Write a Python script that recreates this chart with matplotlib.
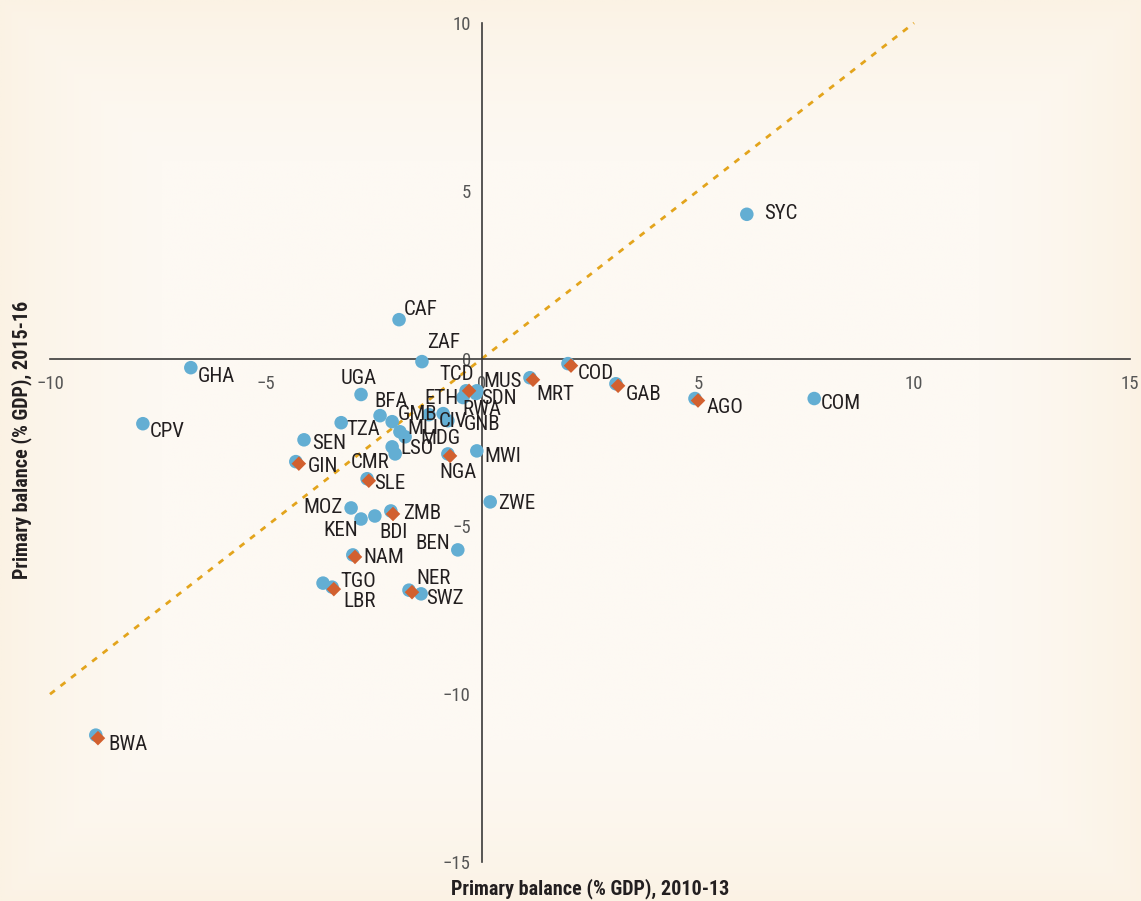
import os
import numpy as np
import matplotlib
matplotlib.use("Agg")
import matplotlib.pyplot as plt
from matplotlib import font_manager
from matplotlib.font_manager import FontProperties

# ---------------- data ----------------
countries = ["SYC", "CAF", "ZAF", "GHA", "CPV", "UGA", "BFA", "TZA", "SEN", "GIN",
             "GMB", "MLI", "MDG", "LSO", "CMR", "ETH", "CIV", "GNB", "RWA", "TCD",
             "MUS", "SDN", "NGA", "MWI", "ZWE", "MRT", "COD", "GAB", "AGO", "COM",
             "MOZ", "KEN", "BDI", "ZMB", "BEN", "NAM", "TGO", "LBR", "NER", "SWZ",
             "SLE", "BWA"]
pb_2010_13 = [6.13, -1.92, -1.39, -6.74, -7.85, -2.80, -2.36, -3.26, -4.12, -4.31,
              -2.08, -1.90, -1.78, -2.08, -2.01, -0.90, -1.23, -0.79, -0.44, -0.37,
              -0.12, -0.14, -0.79, -0.12, 0.19, 1.11, 1.99, 3.10, 4.93, 7.69,
              -3.03, -2.80, -2.48, -2.11, -0.56, -2.99, -3.68, -3.47, -1.69, -1.41,
              -2.66, -8.94]
pb_2015_16 = [4.30, 1.16, -0.09, -0.27, -1.94, -1.07, -1.70, -1.91, -2.42, -3.07,
              -1.88, -2.18, -2.33, -2.63, -2.84, -1.64, -1.67, -1.85, -1.16, -0.96,
              -0.96, -1.04, -2.84, -2.75, -4.27, -0.57, -0.15, -0.75, -1.19, -1.19,
              -4.45, -4.78, -4.69, -4.54, -5.70, -5.85, -6.69, -6.81, -6.90, -7.01,
              -3.58, -11.22]

# highlighted subset (diamonds)
hl_countries = ["TCD", "GIN", "NGA", "SLE", "MRT", "COD", "GAB", "AGO", "ZMB", "NAM",
                "LBR", "NER", "BWA"]
hl_2010_13 = [-0.30, -4.24, -0.74, -2.62, 1.18, 2.06, 3.15, 5.00, -2.06, -2.94,
              -3.43, -1.62, -8.89]
hl_2015_16 = [-0.96, -3.13, -2.90, -3.64, -0.63, -0.21, -0.81, -1.25, -4.63, -5.91,
              -6.87, -6.96, -11.31]

diag = [-10, 10]
x_ticks = [-10, -5, 0, 5, 10, 15]
y_ticks = [-15, -10, -5, 0, 5, 10]

# label offsets (pixels) relative to each point -- layout only
label_offsets = {
    "SYC": (34, 1), "CAF": (22, 10), "ZAF": (22, 19), "GHA": (26, -9), "CPV": (24, -8),
    "UGA": (-2, 16), "BFA": (11, 14), "TZA": (22, -7), "SEN": (25, -4), "GIN": (27, -5),
    "GMB": (25, 7), "MLI": (23, 3), "MDG": (35, -2), "LSO": (25, -2), "CMR": (-25, -9),
    "ETH": (-2, 15), "CIV": (24, -7), "GNB": (34, -4), "RWA": (19, -12), "TCD": (-9, 16),
    "MUS": (26, 9), "SDN": (23, -5), "NGA": (10, -19), "MWI": (26, -6), "ZWE": (26, -2),
    "MRT": (25, -17), "COD": (28, -10), "GAB": (28, -11), "AGO": (30, -9), "COM": (27, -5),
    "MOZ": (-28, 0), "KEN": (-20, -11), "BDI": (19, -17), "ZMB": (31, -3), "BEN": (-25, 6),
    "NAM": (31, -3), "TGO": (35, 2), "LBR": (28, -14), "NER": (25, 12), "SWZ": (24, -5),
    "SLE": (23, -5), "BWA": (32, -9),
}

# ---------------- fonts: look for a condensed face ----------------
def find_face(bold):
    prefs = ["liberationsansnarrow", "robotocondensed", "opensans_condensed",
             "opensanscondensed", "dejavusanscondensed", "notosanscondensed",
             "notosans-condensed", "narrow", "condensed"]
    files = [f for f in font_manager.fontManager.ttflist]
    best = None
    for p in prefs:
        for f in files:
            n = os.path.basename(f.fname).lower().replace(" ", "")
            if p not in n:
                continue
            if "italic" in n or "oblique" in n:
                continue
            isbold = ("bold" in n) and ("semibold" not in n) and ("extrabold" not in n)
            if bold != isbold:
                continue
            if not bold and any(k in n for k in ["light", "thin", "medium", "black", "semibold", "extra"]):
                continue
            best = f.fname
            break
        if best:
            break
    return best

reg_file = find_face(False)
bold_file = find_face(True)

def fp(size, bold=False):
    f = bold_file if bold else reg_file
    if f:
        return FontProperties(fname=f, size=size)
    return FontProperties(family="DejaVu Sans", size=size * 0.85,
                          weight="bold" if bold else "normal", stretch="condensed")

blue = "#63aed3"
orange = "#d2602f"
gold = "#e3a41c"
txt = "#231f20"
tick_col = "#555555"
bg_center = np.array([253, 249, 243]) / 255
bg_edge = np.array([251, 242, 228]) / 255

W, H, DPI = 1141, 901, 100
fig = plt.figure(figsize=(W / DPI, H / DPI), dpi=DPI)

# soft vignette background
bgax = fig.add_axes([0, 0, 1, 1], zorder=-10)
yy, xx = np.mgrid[0:H:4, 0:W:4]
d = np.minimum.reduce([xx, W - xx, yy, H - yy]).astype(float)
t = np.clip(d / 160.0, 0, 1) ** 0.7
img = bg_edge[None, None, :] * (1 - t[..., None]) + bg_center[None, None, :] * t[..., None]
bgax.imshow(img, aspect="auto", extent=[0, 1, 0, 1], interpolation="bilinear")
bgax.axis("off")

left, right = 50 / W, 1130 / W
bottom, top = 1 - 862 / H, 1 - 23 / H
ax = fig.add_axes([left, bottom, right - left, top - bottom])
ax.patch.set_alpha(0)
ax.set_xlim(-10, 15)
ax.set_ylim(-15, 10)

for s in ["top", "right"]:
    ax.spines[s].set_visible(False)
ax.spines["left"].set_position(("data", 0))
ax.spines["bottom"].set_position(("data", 0))
for s in ["left", "bottom"]:
    ax.spines[s].set_color("#3a3a3a")
    ax.spines[s].set_linewidth(1.2)

ax.set_xticks(x_ticks)
ax.set_yticks(y_ticks)
ax.tick_params(length=0, colors=tick_col)
ax.tick_params(axis="x", pad=12)
ax.tick_params(axis="y", pad=8)
tick_fp = fp(13.5)
for lab in ax.get_xticklabels() + ax.get_yticklabels():
    lab.set_fontproperties(tick_fp)
    lab.set_color(tick_col)

# diagonal 45-degree line
ax.plot(diag, diag, linestyle=(0, (2.2, 2.6)), color=gold, linewidth=2.0,
        zorder=1, clip_on=False)

ax.scatter(pb_2010_13, pb_2015_16, s=95, color=blue, edgecolors="none", zorder=3)
ax.scatter(hl_2010_13, hl_2015_16, s=55, marker="D", color=orange, edgecolors="none",
           zorder=4)

lab_fp = fp(15)
for c, xv, yv in zip(countries, pb_2010_13, pb_2015_16):
    dx, dy = label_offsets[c]
    ax.annotate(c, (xv, yv), xytext=(dx, dy), textcoords="offset pixels",
                ha="center", va="center", color=txt, fontproperties=lab_fp, zorder=5)

title_fp = fp(14.5, bold=True)
fig.text(590 / W, 1 - 889 / H, "Primary balance (% GDP), 2010-13", ha="center",
         va="center", color=txt, fontproperties=title_fp)
fig.text(22 / W, 1 - 440 / H, "Primary balance (% GDP), 2015-16", ha="center",
         va="center", rotation=90, color=txt, fontproperties=title_fp)

fig.savefig("out.png", dpi=DPI)
